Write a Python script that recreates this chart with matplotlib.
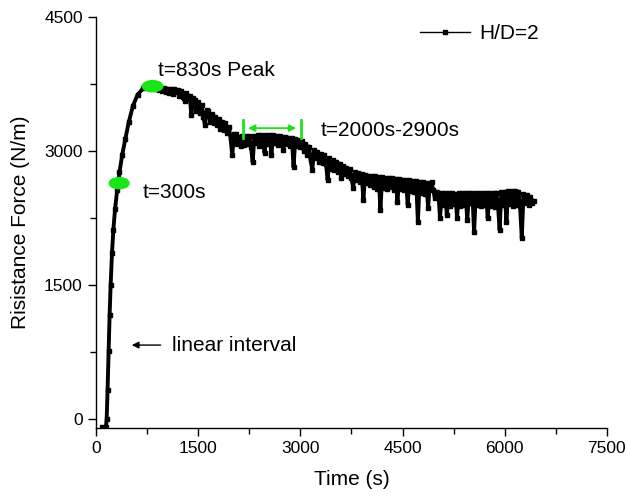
import matplotlib.pyplot as plt
from matplotlib.patches import Ellipse
from matplotlib.lines import Line2D
from matplotlib.ticker import MultipleLocator

plt.rcParams['font.family'] = ['Liberation Sans', 'DejaVu Sans']

# rising part
timeRise = [90, 120, 145, 157, 170, 185, 200, 215, 235, 255, 280, 310, 345, 385, 430, 480, 540, 610, 690, 770, 830]
forceRise = [-90, -95, -90, 0, 330, 760, 1170, 1500, 1860, 2120, 2350, 2560, 2760, 2960, 3130, 3320, 3500, 3630,
             3700, 3720, 3720]

# noisy post-peak part: top of band, bottom of band and downward spikes
timeDecay = [850, 875, 900, 925, 950, 975, 1000, 1025, 1050, 1075, 1100, 1125, 1150, 1175, 1200, 1225, 1250,
             1275, 1300, 1325, 1350, 1375, 1400, 1425,
             1450, 1475, 1500, 1525, 1550, 1575, 1600, 1625, 1650, 1675, 1700, 1725, 1750, 1775, 1800, 1825,
             1850, 1875, 1900, 1925, 1950, 1975, 2000, 2025, 2050, 2075, 2100, 2125,
             2150, 2175, 2200, 2225, 2250, 2275, 2300, 2325, 2350, 2375, 2400, 2425, 2450, 2475, 2500, 2525,
             2550, 2575, 2600, 2625, 2650, 2675, 2700, 2725, 2750, 2775, 2800, 2825, 2850, 2875, 2900, 2925,
             2950, 2975, 3000,
             3025, 3050, 3075, 3100, 3125, 3150, 3175, 3200, 3225, 3250, 3275, 3300, 3325, 3350, 3375, 3400,
             3425, 3450, 3475, 3500, 3525, 3550, 3575, 3600, 3625, 3650, 3675, 3700, 3725, 3750, 3775, 3800,
             3825, 3850, 3875, 3900, 3925, 3950, 3975, 4000,
             4025, 4050, 4075, 4100, 4125, 4150, 4175, 4200, 4225, 4250, 4275, 4300, 4325, 4350, 4375, 4400,
             4425, 4450, 4475, 4500, 4525, 4550, 4575, 4600, 4625, 4650, 4675, 4700, 4725, 4750, 4775, 4800,
             4825, 4850, 4875, 4900, 4925, 4950, 4975, 5000,
             5025, 5050, 5075, 5100, 5125, 5150, 5175, 5200, 5225, 5250, 5275, 5300, 5325, 5350, 5375, 5400,
             5425, 5450, 5475, 5500, 5525, 5550, 5575, 5600, 5625, 5650, 5675, 5700, 5725, 5750, 5775, 5800,
             5825, 5850, 5875, 5900, 5925, 5950, 5975, 6000, 6025, 6050, 6075, 6100, 6125, 6150, 6175, 6200,
             6225, 6250, 6275, 6300, 6325, 6350, 6375, 6400, 6425]
forceDecay = [3715, 3690, 3712, 3680, 3708, 3670, 3702, 3660, 3698, 3650, 3695, 3640, 3690, 3655, 3685, 3610, 3675,
              3600, 3560, 3650, 3580, 3620, 3400, 3590,
              3570, 3450, 3545, 3420, 3515, 3380, 3290, 3460, 3445, 3330, 3415, 3310, 3385, 3290, 3355, 3250,
              3330, 3230, 3310, 3200, 3270, 3150, 2950, 3190, 3185, 3080, 3160, 3060,
              3165, 3070, 3170, 3080, 3165, 3050, 2875, 3170, 3090, 3175, 3060, 3180, 3100, 2975, 3180, 3080,
              3175, 2960, 3175, 3090, 3170, 3070, 3165, 3090, 3010, 3160, 3080, 3150, 3060, 3145, 2820, 3130,
              3060, 3125, 3050,
              3110, 3000, 3075, 2960, 3050, 2900, 2785, 3010, 2920, 2990, 2880, 2965, 2870, 2950, 2860, 2675,
              2920, 2800, 2900, 2790, 2880, 2770, 2860, 2700, 2830, 2740, 2815, 2720, 2800, 2700, 2585, 2765,
              2680, 2755, 2650, 2745, 2450, 2735, 2640, 2725,
              2620, 2720, 2600, 2715, 2580, 2710, 2340, 2705, 2590, 2700, 2570, 2700, 2600, 2695, 2560, 2690,
              2430, 2685, 2580, 2680, 2560, 2675, 2400, 2670, 2550, 2665, 2540, 2660, 2205, 2655, 2530, 2650,
              2520, 2645, 2360, 2640, 2650, 2560, 2470, 2545,
              2530, 2250, 2525, 2400, 2530, 2280, 2525, 2390, 2530, 2410, 2520, 2250, 2530, 2380, 2530, 2400,
              2530, 2225, 2530, 2420, 2530, 2090, 2525, 2400, 2530, 2380, 2530, 2400, 2530, 2250, 2525, 2390,
              2530, 2370, 2535, 2400, 2115, 2540, 2400, 2545, 2205, 2550, 2410, 2550, 2380, 2550, 2400, 2545,
              2380, 2025, 2520, 2420, 2510, 2400, 2480, 2420, 2440]

timeAll = timeRise + timeDecay
forceAll = forceRise + forceDecay

green = "#19e619"

fig = plt.figure(figsize=(6.27, 4.99), dpi=100)
ax = fig.add_axes([0.1531, 0.1423, 0.8149, 0.8237])

ax.plot(timeAll, forceAll, color="black", linewidth=2.8, marker="s", markersize=2.5, zorder=3)

# green markers on the curve
ax.add_patch(Ellipse((340, 2640), 290, 125, color=green, zorder=5))
ax.add_patch(Ellipse((830, 3725), 300, 125, color=green, zorder=5))

# green range bar
ax.plot([2160, 2160], [3145, 3346], color=green, linewidth=2, zorder=4)
ax.plot([3010, 3010], [3145, 3346], color=green, linewidth=2, zorder=4)
ax.annotate("", xy=(2190, 3256), xytext=(2980, 3256),
            arrowprops=dict(arrowstyle="<|-|>", color=green, lw=1.3, mutation_scale=10))

ax.text(910, 3905, "t=830s Peak", fontsize=15, va="center")
ax.text(690, 2530, "t=300s", fontsize=15, va="center")
ax.text(3303, 3234, "t=2000s-2900s", fontsize=15, va="center")
ax.text(1116, 828, "linear interval", fontsize=15, va="center")
ax.annotate("", xy=(485, 828), xytext=(990, 828),
            arrowprops=dict(arrowstyle="-|>", color="black", lw=1.0, mutation_scale=10))

ax.set_xlim(0, 7500)
ax.set_ylim(-100, 4500)
ax.xaxis.set_major_locator(MultipleLocator(1500))
ax.xaxis.set_minor_locator(MultipleLocator(750))
ax.yaxis.set_major_locator(MultipleLocator(1500))
ax.yaxis.set_minor_locator(MultipleLocator(750))
ax.spines["top"].set_visible(False)
ax.spines["right"].set_visible(False)
ax.spines["left"].set_linewidth(1.0)
ax.spines["bottom"].set_linewidth(1.0)
ax.tick_params(which="major", direction="out", length=6, width=1.0, labelsize=12.5)
ax.tick_params(which="minor", direction="out", length=4, width=1.0)

ax.set_xlabel("Time (s)", fontsize=15, labelpad=10)
ax.set_ylabel("Risistance Force (N/m)", fontsize=15, labelpad=10)

legendHandle = Line2D([], [], color="black", linewidth=1.0, marker="s", markersize=2.5)
ax.legend([legendHandle], ["H/D=2"], loc="center left", bbox_to_anchor=(0.635, 0.959), frameon=False,
          fontsize=15, handlelength=2.4, handletextpad=0.4, borderpad=0, borderaxespad=0)

plt.savefig("out.png", dpi=100)
plt.close()
